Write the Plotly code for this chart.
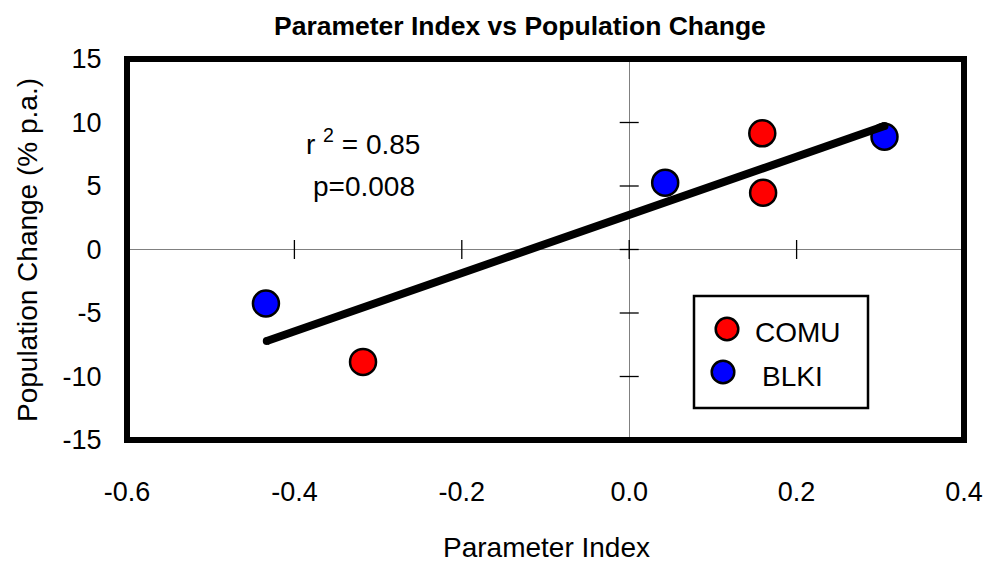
import plotly.graph_objects as go

# ---- data ----
comu_x = [0.159, 0.160, -0.318]
comu_y = [9.15, 4.47, -8.85]
blki_x = [0.043, 0.305, -0.434]
blki_y = [5.26, 8.88, -4.25]
fit_x = [-0.433, 0.305]
fit_y = [-7.2, 9.72]
x_ticks = [-0.6, -0.4, -0.2, 0.0, 0.2, 0.4]
x_tick_labels = ["-0.6", "-0.4", "-0.2", "0.0", "0.2", "0.4"]
y_ticks = [-15, -10, -5, 0, 5, 10, 15]
y_tick_labels = ["-15", "-10", "-5", "0", "5", "10", "15"]
x_minor_marks = [-0.4, -0.2, 0.0, 0.2]
y_minor_marks = [-10, -5, 0, 5, 10]
stats_text = ["r <sup>2</sup> = 0.85", "p=0.008"]
series_names = ["COMU", "BLKI"]
series_colors = ["#ff0000", "#0000ff"]

FONT = "Liberation Sans, Arial, sans-serif"
OFF = 8                      # page body margin of the html page
W, H = 993 - OFF, 567 - OFF
L, R, T, B = 127, 964, 59, 440  # plot area in screen px


def px(xp):
    return (xp - L) / (R - L)


def py(yp):
    return (B - yp) / (B - T)


fig = go.Figure()

fig.add_trace(go.Scatter(
    x=comu_x, y=comu_y, mode="markers", name=series_names[0],
    marker=dict(size=26, color=series_colors[0], line=dict(color="black", width=2.5)),
    showlegend=False,
))
fig.add_trace(go.Scatter(
    x=blki_x, y=blki_y, mode="markers", name=series_names[1],
    marker=dict(size=26, color=series_colors[1], line=dict(color="black", width=2.5)),
    showlegend=False,
))
fig.add_trace(go.Scatter(
    x=fit_x, y=fit_y, mode="lines+markers", line=dict(color="black", width=8),
    marker=dict(size=8, color="black", line=dict(width=0)),
    showlegend=False, hoverinfo="skip",
))

shapes = []
# crossing ticks on the zero axes
for v in y_minor_marks:
    shapes.append(dict(type="line", xref="x", yref="y", xsizemode="pixel", xanchor=0,
                       x0=-9.5, x1=9.5, y0=v, y1=v, line=dict(color="black", width=1.3)))
for v in x_minor_marks:
    shapes.append(dict(type="line", xref="x", yref="y", ysizemode="pixel", yanchor=0,
                       x0=v, x1=v, y0=-9.5, y1=9.5, line=dict(color="black", width=1.3)))
# frame
shapes.append(dict(type="rect", xref="paper", yref="paper", x0=0, x1=1, y0=0, y1=1,
                   line=dict(color="black", width=6), layer="above"))
# legend box
shapes.append(dict(type="rect", xref="paper", yref="paper",
                   x0=px(694), x1=px(868), y0=py(408), y1=py(296),
                   line=dict(color="black", width=2.5), fillcolor="white", layer="above"))
# legend markers
for (cx, cy), col in zip([(727, 329), (723, 372)], series_colors):
    shapes.append(dict(type="circle", xref="paper", yref="paper",
                       xsizemode="pixel", ysizemode="pixel",
                       xanchor=px(cx), yanchor=py(cy),
                       x0=-11.3, x1=11.3, y0=-11.3, y1=11.3,
                       fillcolor=col, line=dict(color="black", width=2.5), layer="above"))

annotations = [
    dict(text="<b>Parameter Index vs Population Change</b>", xref="paper", yref="paper",
         x=px(520), y=py(26), xanchor="center", yanchor="middle", showarrow=False,
         font=dict(size=26.5, family=FONT, color="black")),
    dict(text="Parameter Index", xref="paper", yref="paper",
         x=px(546), y=py(547), xanchor="center", yanchor="middle", showarrow=False,
         font=dict(size=28, family=FONT, color="black")),
    dict(text="Population Change (% p.a.)", xref="paper", yref="paper",
         x=px(28), y=py(250), xanchor="center", yanchor="middle", showarrow=False,
         textangle=-90, font=dict(size=28, family=FONT, color="black")),
    dict(text=stats_text[0], xref="paper", yref="paper",
         x=px(363), y=py(142), xanchor="center", yanchor="middle", showarrow=False,
         font=dict(size=28, family=FONT, color="black")),
    dict(text=stats_text[1], xref="paper", yref="paper",
         x=px(364), y=py(186), xanchor="center", yanchor="middle", showarrow=False,
         font=dict(size=28, family=FONT, color="black")),
    dict(text=series_names[0], xref="paper", yref="paper",
         x=px(753), y=py(332), xanchor="left", yanchor="middle", showarrow=False,
         font=dict(size=28, family=FONT, color="black")),
    dict(text=series_names[1], xref="paper", yref="paper",
         x=px(760), y=py(376), xanchor="left", yanchor="middle", showarrow=False,
         font=dict(size=28, family=FONT, color="black")),
]

fig.update_layout(
    width=W, height=H,
    margin=dict(l=L - OFF, r=(W + OFF) - R, t=T - OFF, b=(H + OFF) - B, pad=0,
                autoexpand=False),
    paper_bgcolor="white", plot_bgcolor="white",
    font=dict(family=FONT, size=27, color="black"),
    showlegend=False,
    shapes=shapes,
    annotations=annotations,
    xaxis=dict(range=[-0.6, 0.4], tickvals=x_ticks, ticktext=x_tick_labels,
               automargin=False,
               showgrid=False, zeroline=True, zerolinecolor="#808080", zerolinewidth=1.2,
               showline=False, ticks="outside", ticklen=28, tickcolor="rgba(0,0,0,0)",
               tickfont=dict(size=27, family=FONT, color="black")),
    yaxis=dict(range=[-15, 15], tickvals=y_ticks, ticktext=y_tick_labels,
               automargin=False,
               showgrid=False, zeroline=True, zerolinecolor="#808080", zerolinewidth=1.2,
               showline=False, ticks="outside", ticklen=19, tickcolor="rgba(0,0,0,0)",
               tickfont=dict(size=27, family=FONT, color="black")),
)

fig.write_html("out.html")
